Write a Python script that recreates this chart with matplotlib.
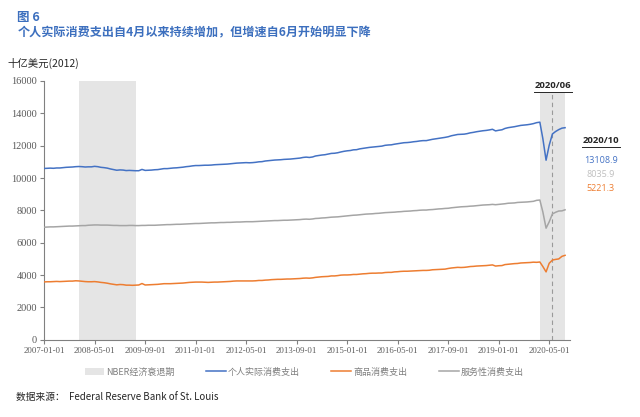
import numpy as np
import pandas as pd
import matplotlib
matplotlib.use("Agg")
import matplotlib.pyplot as plt
import matplotlib.dates as mdates
from matplotlib.patches import Patch
from matplotlib.lines import Line2D

plt.rcParams['font.family'] = ['Noto Sans CJK SC', 'DejaVu Sans']

# monthly data, billions of chained 2012 dollars, 2007-01 .. 2020-10
pce = [
    10590, 10600, 10610, 10600, 10620, 10620, 10640, 10660, 10670, 10680, 10700, 10710,  # 2007
    10700, 10680, 10690, 10690, 10720, 10700, 10660, 10640, 10610, 10560, 10520, 10480,  # 2008
    10500, 10490, 10460, 10470, 10460, 10450, 10450, 10530, 10470, 10480, 10490, 10510,  # 2009
    10520, 10550, 10580, 10580, 10600, 10620, 10630, 10650, 10670, 10700, 10720, 10750,  # 2010
    10770, 10770, 10780, 10790, 10790, 10800, 10820, 10830, 10840, 10850, 10860, 10880,  # 2011
    10900, 10920, 10930, 10940, 10950, 10940, 10950, 10970, 11000, 11010, 11050, 11070,  # 2012
    11090, 11110, 11120, 11130, 11150, 11160, 11170, 11190, 11210, 11230, 11270, 11290,  # 2013
    11270, 11300, 11360, 11390, 11420, 11440, 11480, 11520, 11530, 11560, 11610, 11650,  # 2014
    11680, 11700, 11740, 11750, 11800, 11830, 11860, 11890, 11910, 11930, 11950, 11970,  # 2015
    12020, 12040, 12050, 12090, 12120, 12150, 12180, 12190, 12210, 12240, 12260, 12290,  # 2016
    12310, 12310, 12350, 12390, 12420, 12450, 12480, 12510, 12550, 12610, 12650, 12690,  # 2017
    12700, 12710, 12740, 12790, 12820, 12860, 12890, 12920, 12940, 12970, 13010, 12910,  # 2018
    12950, 12980, 13060, 13110, 13140, 13170, 13210, 13250, 13270, 13290, 13320, 13360,  # 2019
    13420, 13450, 12430, 11100, 12020, 12720, 12870, 12990, 13080, 13108.9,              # 2020
]
goods = [
    3580, 3590, 3590, 3600, 3610, 3600, 3610, 3620, 3630, 3630, 3650, 3640,
    3620, 3600, 3590, 3590, 3600, 3580, 3550, 3530, 3500, 3460, 3430, 3400,
    3420, 3410, 3380, 3380, 3370, 3380, 3390, 3480, 3390, 3400, 3410, 3420,
    3430, 3450, 3470, 3470, 3470, 3480, 3490, 3500, 3510, 3530, 3550, 3560,
    3570, 3570, 3570, 3560, 3550, 3560, 3570, 3570, 3580, 3590, 3600, 3610,
    3630, 3640, 3640, 3640, 3640, 3640, 3640, 3650, 3670, 3670, 3690, 3700,
    3720, 3730, 3740, 3740, 3750, 3760, 3760, 3770, 3780, 3790, 3810, 3820,
    3810, 3830, 3860, 3880, 3900, 3910, 3920, 3950, 3950, 3970, 4000, 4010,
    4010, 4020, 4040, 4040, 4060, 4080, 4090, 4110, 4120, 4120, 4130, 4130,
    4160, 4170, 4170, 4200, 4210, 4230, 4240, 4240, 4250, 4260, 4270, 4280,
    4290, 4290, 4300, 4330, 4340, 4350, 4360, 4370, 4410, 4440, 4460, 4480,
    4470, 4480, 4500, 4530, 4540, 4560, 4570, 4580, 4590, 4610, 4630, 4560,
    4580, 4590, 4650, 4670, 4690, 4710, 4720, 4750, 4760, 4770, 4780, 4800,
    4790, 4810, 4530, 4200, 4730, 4930, 4970, 5000, 5160, 5221.3,
]
services = [
    6960, 6970, 6980, 6980, 6990, 7000, 7010, 7020, 7030, 7030, 7040, 7050,
    7060, 7060, 7080, 7090, 7100, 7100, 7090, 7090, 7090, 7080, 7070, 7070,
    7060, 7060, 7060, 7070, 7070, 7060, 7060, 7070, 7070, 7080, 7080, 7080,
    7090, 7100, 7110, 7120, 7120, 7130, 7140, 7140, 7150, 7160, 7170, 7180,
    7190, 7190, 7200, 7210, 7220, 7230, 7230, 7240, 7250, 7250, 7260, 7260,
    7270, 7280, 7280, 7290, 7300, 7300, 7300, 7310, 7320, 7330, 7340, 7350,
    7360, 7370, 7370, 7380, 7390, 7390, 7400, 7410, 7420, 7430, 7450, 7460,
    7450, 7470, 7500, 7510, 7530, 7540, 7560, 7580, 7590, 7600, 7620, 7640,
    7660, 7680, 7700, 7710, 7730, 7750, 7770, 7780, 7790, 7810, 7820, 7840,
    7860, 7870, 7880, 7890, 7910, 7920, 7940, 7950, 7960, 7980, 7990, 8010,
    8020, 8020, 8040, 8050, 8070, 8090, 8100, 8120, 8130, 8160, 8180, 8200,
    8220, 8230, 8240, 8260, 8270, 8290, 8310, 8330, 8340, 8350, 8370, 8350,
    8370, 8390, 8410, 8440, 8450, 8460, 8490, 8500, 8510, 8520, 8540, 8560,
    8620, 8640, 7900, 6900, 7290, 7780, 7880, 7960, 7970, 8035.9,
]
dates = pd.date_range('2007-01-01', periods=len(pce), freq='MS')

recessions = [('2007-12-01', '2009-06-01'), ('2020-02-01', '2020-10-01')]
tick_dates = ['2007-01-01', '2008-05-01', '2009-09-01', '2011-01-01', '2012-05-01',
              '2013-09-01', '2015-01-01', '2016-05-01', '2017-09-01', '2019-01-01',
              '2020-05-01']
series_names = ['个人实际消费支出', '商品消费支出', '服务性消费支出']
last_labels = ['13108.9', '8035.9', '5221.3']

BLUE = '#4472c4'
ORANGE = '#ed7d31'
GREY = '#a5a5a5'
SHADE = '#e5e5e5'
SERIF = 'Liberation Serif'
LAT = ['Open Sans', 'DejaVu Sans']

fig = plt.figure(figsize=(6.4, 4.17), dpi=100)
ax = fig.add_axes([0.069, 0.185, 0.822, 0.621])

for start, end in recessions:
    ax.axvspan(pd.Timestamp(start), pd.Timestamp(end), color=SHADE, lw=0, zorder=0)

ax.plot(dates, pce, color=BLUE, lw=1.1, zorder=3)
ax.plot(dates, goods, color=ORANGE, lw=1.1, zorder=3)
ax.plot(dates, services, color=GREY, lw=1.1, zorder=3)

# marker for 2020/06
ax.axvline(pd.Timestamp('2020-06-01'), color='#9a9a9a', lw=0.8, ls=(0, (4, 3)), zorder=2)

ax.set_xlim(pd.Timestamp('2007-01-01'), pd.Timestamp('2020-11-20'))
ax.set_ylim(0, 16000)
ax.set_yticks(np.arange(0, 16001, 2000))
ax.set_xticks([pd.Timestamp(d) for d in tick_dates])
ax.xaxis.set_major_formatter(mdates.DateFormatter('%Y-%m-%d'))

for lab in ax.get_xticklabels() + ax.get_yticklabels():
    lab.set_fontfamily(SERIF)
    lab.set_color('#595959')
for lab in ax.get_xticklabels():
    lab.set_fontsize(6.3)
for lab in ax.get_yticklabels():
    lab.set_fontsize(7.5)

ax.tick_params(axis='both', direction='out', length=3, width=0.8, color='#808080', pad=2)
for side in ['top', 'right']:
    ax.spines[side].set_visible(False)
for side in ['left', 'bottom']:
    ax.spines[side].set_color('#808080')
    ax.spines[side].set_linewidth(0.8)

# titles and notes
fig.text(0.027, 0.957, '图 6', fontsize=9, fontweight='bold', color='#3c6fbe', va='center')
fig.text(0.027, 0.921, '个人实际消费支出自4月以来持续增加，但增速自6月开始明显下降',
         fontsize=8.7, fontweight='bold', color='#3c6fbe', va='center')
fig.text(0.012, 0.849, '十亿美元(2012)', fontsize=7.5, color='#262626', va='center')
fig.text(0.025, 0.045, '数据来源：  Federal Reserve Bank of St. Louis', fontsize=7,
         color='#262626', va='center')


def underlined(x, y, s):
    # bold date label with a short rule under it
    fig.text(x, y, s, fontsize=6.8, fontweight='bold', color='#262626',
             ha='center', va='center', family=LAT, zorder=3,
             bbox=dict(facecolor='white', edgecolor='none', pad=1.5))
    fig.lines.append(Line2D([x - 0.029, x + 0.029], [y - 0.0155, y - 0.0155],
                            transform=fig.transFigure, color='#262626', lw=0.7,
                            zorder=6))


underlined(0.864, 0.796, '2020/06')
underlined(0.939, 0.664, '2020/10')
for i, (lab, col) in enumerate(zip(last_labels, [BLUE, '#bfbfbf', ORANGE])):
    fig.text(0.939, 0.616 - i * 0.034, lab, fontsize=6.5, color=col, ha='center',
             va='center', family=LAT)

handles = [Patch(facecolor=SHADE, edgecolor='none', label='NBER经济衰退期'),
           Line2D([], [], color=BLUE, lw=1.1, label=series_names[0]),
           Line2D([], [], color=ORANGE, lw=1.1, label=series_names[1]),
           Line2D([], [], color=GREY, lw=1.1, label=series_names[2])]
leg = fig.legend(handles=handles, loc='center', bbox_to_anchor=(0.475, 0.108), ncol=4,
                 frameon=False, fontsize=6.5, handlelength=2.2, handletextpad=0.2,
                 columnspacing=3.5)
for t in leg.get_texts():
    t.set_color('#7f7f7f')

fig.savefig('out.png', dpi=100, facecolor='white')
